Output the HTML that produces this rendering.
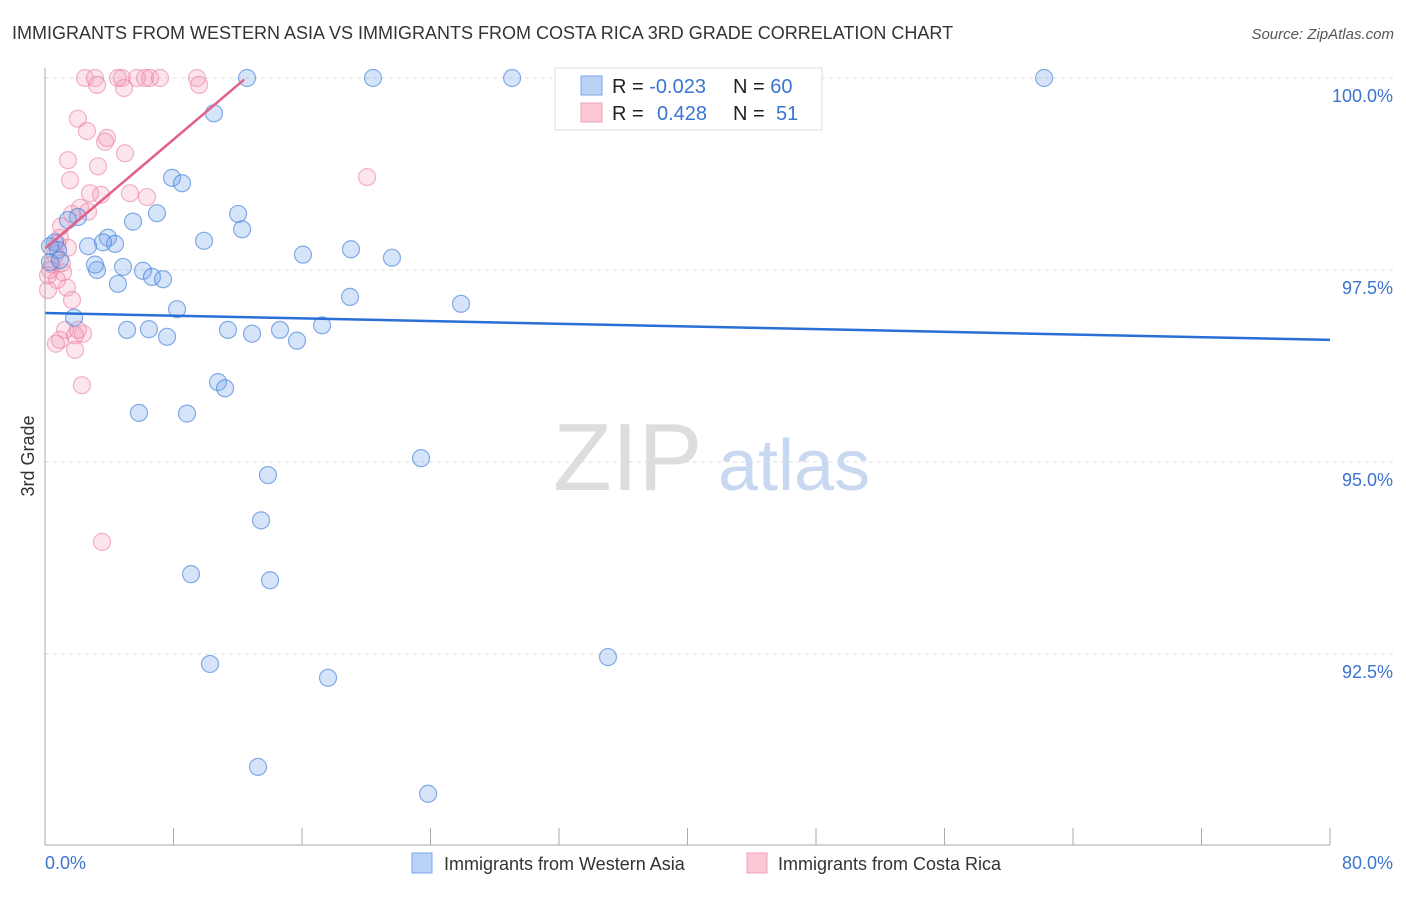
<!DOCTYPE html>
<html><head><meta charset="utf-8"><style>
body{margin:0;background:#fff;font-family:"Liberation Sans",sans-serif;}
svg text{font-family:"Liberation Sans",sans-serif;}
</style></head><body>
<svg id="c" width="1406" height="892" xmlns="http://www.w3.org/2000/svg">
<text x="12" y="39" font-size="18" fill="#333">IMMIGRANTS FROM WESTERN ASIA VS IMMIGRANTS FROM COSTA RICA 3RD GRADE CORRELATION CHART</text>
<text x="1394" y="39" font-size="15" fill="#555" font-style="italic" text-anchor="end">Source: ZipAtlas.com</text>
<text x="34" y="456" font-size="18" fill="#333" transform="rotate(-90 34 456)" text-anchor="middle">3rd Grade</text>
<g><text x="553" y="490" font-size="96" font-family="Liberation Serif" fill="#ddd">ZIP</text><text x="718" y="490" font-size="72" fill="#c8d8f0">atlas</text></g>
<g id="grid"></g><g id="pts"></g><g id="lines"></g>
<line x1="45" y1="68" x2="45" y2="845" stroke="#aaa"/>
<line x1="45" y1="845" x2="1330" y2="845" stroke="#aaa"/>
<text x="45" y="869" font-size="18" fill="#3b74d1">0.0%</text>
<text x="1393" y="869" font-size="18" fill="#3b74d1" text-anchor="end">80.0%</text>
<g>
<rect x="555" y="68" width="267" height="62" fill="#fff" stroke="#ddd"/>
<rect x="581" y="76" width="21" height="19" fill="#b9d2f5" stroke="#7aa6e8"/>
<rect x="581" y="103" width="21" height="19" fill="#fcc8d6" stroke="#f0a0b8"/>
<text x="612" y="93" font-size="20" fill="#222">R = <tspan fill="#3b74d1">-0.023</tspan></text>
<text x="733" y="93" font-size="20" fill="#222">N = <tspan fill="#3b74d1">60</tspan></text>
<text x="612" y="120" font-size="20" fill="#222">R = <tspan fill="#3b74d1" x="657">0.428</tspan></text>
<text x="733" y="120" font-size="20" fill="#222">N = <tspan fill="#3b74d1" x="776">51</tspan></text>
</g>
<g><rect x="412" y="853" width="20" height="20" fill="#b9d2f5" stroke="#7aa6e8"/><text x="444" y="870" font-size="18" fill="#333">Immigrants from Western Asia</text></g>
<g><rect x="747" y="853" width="20" height="20" fill="#fcc8d6" stroke="#f0a0b8"/><text x="778" y="870" font-size="18" fill="#333">Immigrants from Costa Rica</text></g>
</svg>
<script>
const yTicks=[100,97.5,95,92.5];
const yTickLabels=["100.0%","97.5%","95.0%","92.5%"];
const xTicks=[0,8,16,24,32,40,48,56,64,72,80];
const blueX=[12.58,20.42,29.08,42.28,62.2,10.52,7.91,8.53,6.97,12.02,5.48,12.27,2.05,1.43,9.9,3.92,4.36,3.61,2.68,0.62,0.81,16.06,19.05,21.6,0.31,0.93,4.86,3.24,6.1,6.66,7.35,4.54,18.99,25.9,8.22,1.81,17.25,5.11,6.47,7.6,11.39,12.89,14.63,15.69,10.77,11.21,5.85,8.84,23.41,13.88,13.45,9.09,14.01,35.05,10.27,17.62,13.26,23.85,0.31,3.11];
const blueY=[100,100,100,100,100,99.54,98.7,98.63,98.24,98.23,98.13,98.03,98.19,98.15,97.88,97.92,97.84,97.86,97.81,97.86,97.76,97.7,97.77,97.66,97.6,97.63,97.54,97.5,97.49,97.41,97.38,97.32,97.15,97.06,96.99,96.88,96.78,96.72,96.73,96.63,96.72,96.67,96.72,96.58,96.04,95.96,95.64,95.63,95.05,94.83,94.24,93.54,93.46,92.46,92.37,92.19,91.03,90.68,97.81,97.57];
const pinkX=[2.49,3.11,3.24,4.54,4.79,4.92,5.73,6.23,6.54,7.16,9.46,9.59,2.05,2.61,3.74,3.86,4.98,1.43,3.3,1.56,20.05,2.8,3.49,5.29,6.35,2.68,2.18,1.68,0.93,1.43,0.62,0.44,1.12,0.75,0.19,1.37,1.68,1.25,2.37,1.87,0.93,0.68,1.87,2.3,3.55,0.75,0.31,1.0,1.06,0.19,2.05];
const pinkY=[100,100,99.91,100,100,99.87,100,100,100,100,100,99.91,99.47,99.31,99.17,99.22,99.02,98.93,98.85,98.67,98.71,98.5,98.48,98.5,98.45,98.26,98.31,98.23,97.92,97.79,97.7,97.57,97.47,97.37,97.24,97.27,97.11,96.72,96.67,96.65,96.59,96.54,96.46,96,93.96,97.84,97.5,98.07,97.59,97.43,96.72];
const blueTrend=[0,96.94,80,96.59];
const pinkTrend=[0,97.78,12.4,99.98];
const X=v=>45+v/80*1285, Y=v=>78+(100-v)*76.8;
const NS="http://www.w3.org/2000/svg";
function mk(t,a,p){const e=document.createElementNS(NS,t);for(const k in a)e.setAttribute(k,a[k]);p.appendChild(e);return e;}
const grid=document.getElementById('grid');
yTicks.forEach((v,i)=>{
 const l=mk('line',{x1:45,x2:1395,y1:Y(v),y2:Y(v),stroke:'#ddd','stroke-dasharray':'4,4'},grid);
 
 
 const t=mk('text',{x:1393,y:Y(v)+24,'font-size':18,fill:'#3b74d1','text-anchor':'end'},grid);
 t.textContent=yTickLabels[i];
 
 
});
xTicks.forEach(v=>{
 const l=mk('line',{x1:X(v),x2:X(v),y1:828,y2:845,stroke:'#aaa'},grid);
 
 
});
const pts=document.getElementById('pts');
pinkX.forEach((x,i)=>{
 const c=mk('circle',{cx:X(x),cy:Y(pinkY[i]),r:8.5,fill:'rgba(245,150,180,0.25)',stroke:'rgba(235,130,165,0.6)','stroke-width':1.2},pts);
 
 
});
blueX.forEach((x,i)=>{
 const c=mk('circle',{cx:X(x),cy:Y(blueY[i]),r:8.5,fill:'rgba(120,165,235,0.3)',stroke:'rgba(70,130,220,0.65)','stroke-width':1.2},pts);
 
 
});
const lines=document.getElementById('lines');
const bl=mk('line',{x1:X(blueTrend[0]),y1:Y(blueTrend[1]),x2:X(blueTrend[2]),y2:Y(blueTrend[3]),stroke:'#2a6fd6','stroke-width':2.5},lines);


const pl=mk('line',{x1:X(pinkTrend[0]),y1:Y(pinkTrend[1]),x2:X(pinkTrend[2]),y2:Y(pinkTrend[3]),stroke:'#e0608a','stroke-width':2.5},lines);


</script>
</body></html>
